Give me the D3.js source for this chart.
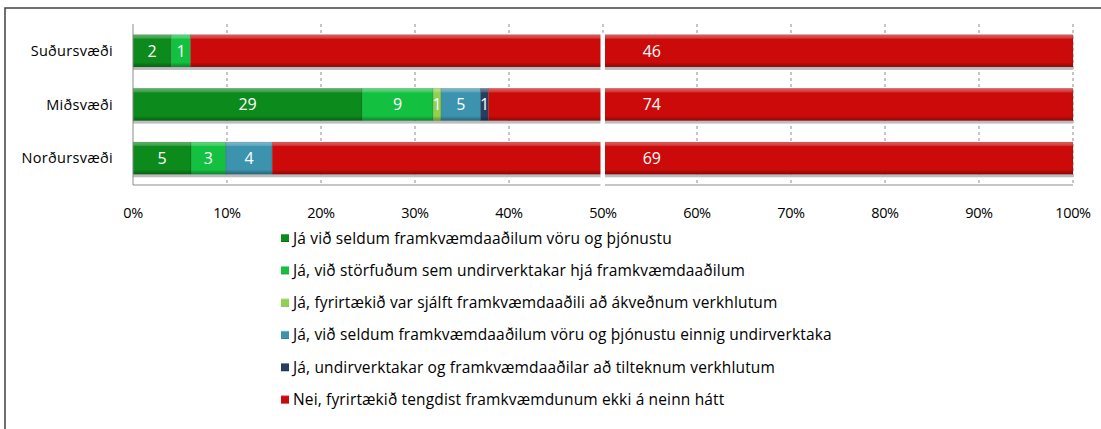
<!DOCTYPE html>
<html>
<head>
<meta charset="utf-8">
<script src="https://cdn.jsdelivr.net/npm/d3@7"></script>
<style>
  body { margin: 0; background: #fff; }
  text { font-family: "Open Sans", "Liberation Sans", sans-serif; }
</style>
</head>
<body>
<div id="chart"></div>
<script>
// data
const categories = ["Suðursvæði", "Miðsvæði", "Norðursvæði"];
const seriesNames = [
  "Já við seldum framkvæmdaaðilum vöru og þjónustu",
  "Já, við störfuðum  sem undirverktakar hjá framkvæmdaaðilum",
  "Já, fyrirtækið var sjálft framkvæmdaaðili að ákveðnum verkhlutum",
  "Já, við seldum framkvæmdaaðilum vöru og þjónustu  einnig undirverktaka",
  "Já, undirverktakar og framkvæmdaaðilar að tilteknum verkhlutum",
  "Nei, fyrirtækið tengdist framkvæmdunum ekki á neinn hátt"
];
const seldum = [2, 29, 5];
const storfudum = [1, 9, 3];
const sjalft = [0, 1, 0];
const einnig = [0, 5, 4];
const undirv = [0, 1, 0];
const nei = [46, 74, 69];
const ticks = [0, 0.1, 0.2, 0.3, 0.4, 0.5, 0.6, 0.7, 0.8, 0.9, 1];
const colors = ["#0c8a1c", "#14c040", "#92d050", "#3b93ad", "#243f60", "#cc0a0a"];

const width = 1101, height = 429;
const margin = { left: 133, right: 28, top: 24, bottom: 244 };

const svg = d3.select("#chart").append("svg")
  .attr("width", width)
  .attr("height", height);

// outer frame
svg.append("rect")
  .attr("x", 5).attr("y", 8)
  .attr("width", width + 20).attr("height", height + 20)
  .attr("fill", "none")
  .attr("stroke", "#404040")
  .attr("stroke-width", 1.5);

const rows = categories.map((c, i) => ({
  cat: c, s0: seldum[i], s1: storfudum[i], s2: sjalft[i], s3: einnig[i], s4: undirv[i], s5: nei[i]
}));
const keys = ["s0", "s1", "s2", "s3", "s4", "s5"];
const stacked = d3.stack().keys(keys).offset(d3.stackOffsetExpand)(rows);

const x = d3.scaleLinear().domain([0, 1]).range([margin.left, width - margin.right]);
const y = d3.scaleBand().domain(categories)
  .range([margin.top, height - margin.bottom])
  .paddingInner(0.4).paddingOuter(0.2);

// bevel gradient overlay
const defs = svg.append("defs");
const grad = defs.append("linearGradient").attr("id", "bevel")
  .attr("x1", 0).attr("y1", 0).attr("x2", 0).attr("y2", 1);
grad.append("stop").attr("offset", "0%").attr("stop-color", "#fff").attr("stop-opacity", 0.35);
grad.append("stop").attr("offset", "10%").attr("stop-color", "#fff").attr("stop-opacity", 0.2);
grad.append("stop").attr("offset", "14%").attr("stop-color", "#fff").attr("stop-opacity", 0);
grad.append("stop").attr("offset", "86%").attr("stop-color", "#000").attr("stop-opacity", 0);
grad.append("stop").attr("offset", "92%").attr("stop-color", "#000").attr("stop-opacity", 0.15);
grad.append("stop").attr("offset", "100%").attr("stop-color", "#000").attr("stop-opacity", 0.3);

// gridlines
svg.append("g").selectAll("line")
  .data(ticks.slice(1))
  .join("line")
  .attr("x1", d => x(d)).attr("x2", d => x(d))
  .attr("y1", margin.top).attr("y2", height - margin.bottom)
  .attr("stroke", "#8c8c8c")
  .attr("stroke-dasharray", "3,3");

// bar shadows
svg.append("g").selectAll("rect")
  .data(categories)
  .join("rect")
  .attr("x", x(0))
  .attr("y", d => y(d) + y.bandwidth())
  .attr("width", x(1) - x(0))
  .attr("height", 3)
  .attr("fill", "#bdbdbd");

// segments
const layer = svg.append("g").selectAll("g")
  .data(stacked)
  .join("g")
  .attr("fill", (d, i) => colors[i]);

layer.selectAll("rect.seg")
  .data(d => d.filter(p => p[1] - p[0] > 0))
  .join("rect")
  .attr("class", "seg")
  .attr("x", d => x(d[0]))
  .attr("y", d => y(d.data.cat))
  .attr("width", d => x(d[1]) - x(d[0]))
  .attr("height", y.bandwidth());

layer.selectAll("rect.shine")
  .data(d => d.filter(p => p[1] - p[0] > 0))
  .join("rect")
  .attr("class", "shine")
  .attr("x", d => x(d[0]))
  .attr("y", d => y(d.data.cat))
  .attr("width", d => x(d[1]) - x(d[0]))
  .attr("height", y.bandwidth())
  .attr("fill", "url(#bevel)")
  .attr("stroke", "rgba(0,0,0,0.15)")
  .attr("stroke-width", 0.8);

// axis lines
svg.append("line")
  .attr("x1", x(0)).attr("x2", x(0))
  .attr("y1", margin.top).attr("y2", height - margin.bottom)
  .attr("stroke", "#8c8c8c");
svg.append("line")
  .attr("x1", x(0)).attr("x2", x(1))
  .attr("y1", height - margin.bottom).attr("y2", height - margin.bottom)
  .attr("stroke", "#8c8c8c");

// axis break at 50%
svg.append("rect")
  .attr("x", x(0.5) - 2.5)
  .attr("y", y(categories[0]) - 2)
  .attr("width", 4.5)
  .attr("height", height - margin.bottom - y(categories[0]) + 3)
  .attr("fill", "#fff");

// segment labels
const breakLabelPos = 0.552;
keys.forEach((k, si) => {
  stacked[si].forEach((p, ci) => {
    const v = rows[ci][k];
    if (!v) return;
    const cx = si === 5 ? x(breakLabelPos) : (x(p[0]) + x(p[1])) / 2;
    svg.append("text")
      .attr("x", cx)
      .attr("y", y(rows[ci].cat) + y.bandwidth() / 2)
      .attr("dy", "0.36em")
      .attr("text-anchor", "middle")
      .attr("fill", "#fff")
      .style("font-size", "16px")
      .text(v);
  });
});

// category labels
svg.append("g").selectAll("text")
  .data(categories)
  .join("text")
  .attr("x", x(0) - 20)
  .attr("y", d => y(d) + y.bandwidth() / 2)
  .attr("dy", "0.36em")
  .attr("text-anchor", "end")
  .style("font-size", "14.5px")
  .style("letter-spacing", "0.3px")
  .text(d => d);

// x tick labels
svg.append("g").selectAll("text")
  .data(ticks)
  .join("text")
  .attr("x", d => x(d))
  .attr("y", 213)
  .attr("dy", "0.36em")
  .attr("text-anchor", "middle")
  .style("font-size", "14.5px")
  .style("letter-spacing", "-0.4px")
  .text(d3.format(".0%"));

// legend
const legend = svg.append("g").selectAll("g")
  .data(seriesNames)
  .join("g")
  .attr("transform", (d, i) => `translate(281, ${238 + i * 32.3})`);

legend.append("rect")
  .attr("x", 0).attr("y", -4)
  .attr("width", 8).attr("height", 8)
  .attr("fill", (d, i) => colors[i]);
legend.append("rect")
  .attr("x", 0).attr("y", -4)
  .attr("width", 8).attr("height", 8)
  .attr("fill", "url(#bevel)");
legend.append("text")
  .attr("x", 12)
  .attr("dy", "0.36em")
  .style("font-size", "15.5px")
  .style("letter-spacing", "0.15px")
  .text(d => d);
</script>
</body>
</html>
